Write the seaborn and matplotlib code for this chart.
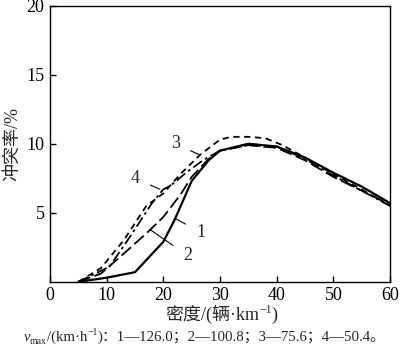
import numpy as np
import pandas as pd
import seaborn as sns
import matplotlib
matplotlib.use("Agg")
import matplotlib.pyplot as plt
from matplotlib.transforms import IdentityTransform

# curve data: density (veh/km) vs conflict rate (%)
density1 = [5, 10, 15, 20, 22, 25, 28, 30, 35, 40, 45, 50, 55, 60]
rate1 = [0, 0.3, 0.7, 2.9, 4.5, 7.3, 8.8, 9.5, 10.0, 9.8, 9.0, 7.9, 6.9, 5.7]

density2 = [5, 9, 14, 17.5, 20, 21.5, 23, 25, 28, 30, 35, 40, 45, 50, 55, 60]
rate2 = [0, 0.6, 2.4, 3.7, 4.7, 5.5, 6.3, 7.6, 8.9, 9.5, 9.9, 9.7, 8.8, 7.6, 6.6, 5.6]

density3 = [5, 9, 13, 17, 20, 23, 26.5, 30, 32, 35, 38, 41, 45, 50, 55, 60]
rate3 = [0, 1.0, 3.0, 5.5, 6.4, 7.8, 9.2, 10.3, 10.5, 10.5, 10.4, 9.9, 9.0, 7.8, 6.7, 5.5]

density4 = [5, 10.5, 14, 18, 20, 21, 22, 24, 27, 30, 35, 40, 45, 50, 55, 60]
rate4 = [0, 1.1, 3.2, 5.7, 6.7, 6.9, 7.2, 7.9, 8.8, 9.5, 9.9, 9.8, 8.9, 7.7, 6.6, 5.5]

curve_labels = ["1", "2", "3", "4"]
x_ticks = [0, 10, 20, 30, 40, 50, 60]
y_ticks = [5, 10, 15, 20]

sns.set_theme(style="ticks")
plt.rcParams["font.family"] = ["Liberation Serif", "Noto Sans CJK SC"]
plt.rcParams["xtick.direction"] = "in"
plt.rcParams["ytick.direction"] = "in"

fig = plt.figure(figsize=(4, 3.51), dpi=100)
ax = fig.add_axes([0.125, 0.197, 0.85, 0.787])

styles = [(None, 1.6), ((7, 2.5), 1.3), ((3.5, 2.5), 1.3), ((6, 2, 1.5, 2), 1.3)]
series = [(density1, rate1), (density2, rate2), (density3, rate3), (density4, rate4)]
for (xs, ys), (dash, lw) in zip(series, styles):
    sns.lineplot(x=xs, y=ys, ax=ax, color="black", lw=lw)
    if dash is not None:
        ax.lines[-1].set_dashes(dash)

ax.set_xlim(0, 60)
ax.set_ylim(0, 20)
ax.set_xticks(x_ticks)
ax.set_yticks(y_ticks)
ax.tick_params(labelsize=13, length=4, width=1, colors="black", pad=4)
for s in ax.spines.values():
    s.set_linewidth(1.0)
    s.set_color("black")

ax.set_ylabel("冲突率/%", fontsize=13, labelpad=3.5)

# curve labels with leader lines
ann = [("3", (26.4, 9.2), (22.1, 10.0)),
       ("4", (19.4, 6.7), (15.0, 7.5)),
       ("1", (22.0, 4.6), (26.6, 3.6)),
       ("2", (17.6, 3.8), (24.3, 1.9))]
for txt, xy, xytext in ann:
    ax.annotate(txt, xy=xy, xytext=xytext, fontsize=13, ha="center", va="center",
                arrowprops=dict(arrowstyle="-", color="black", lw=0.8, shrinkA=6, shrinkB=0))


def rich_text(xc, y, pieces):
    # place text pieces one after another, centred at xc (figure fraction)
    renderer = fig.canvas.get_renderer()
    objs = []
    for s, fs, style, dy in pieces:
        t = fig.text(0, 0, s, fontsize=fs, style=style, ha="left", va="baseline",
                     transform=IdentityTransform())
        objs.append((t, dy))
    widths = [t.get_window_extent(renderer).width for t, _ in objs]
    x = xc * fig.bbox.width - sum(widths) / 2
    ybase = y * fig.bbox.height
    for (t, dy), w in zip(objs, widths):
        t.set_position((x, ybase + dy))
        x += w


rich_text(0.553, 0.088, [("密度/(辆·km", 13, "normal", 0),
                         ("−1", 8.5, "normal", 7),
                         (")", 13, "normal", 0)])

rich_text(0.512, 0.028, [("v", 10.7, "italic", 0),
                         ("max", 7, "normal", -3),
                         ("/(km·h", 10.7, "normal", 0),
                         ("−1", 7, "normal", 6),
                         (")：1—126.0；2—100.8；3—75.6；4—50.4。", 10.7, "normal", 0)])

fig.savefig("out.png", dpi=100)
